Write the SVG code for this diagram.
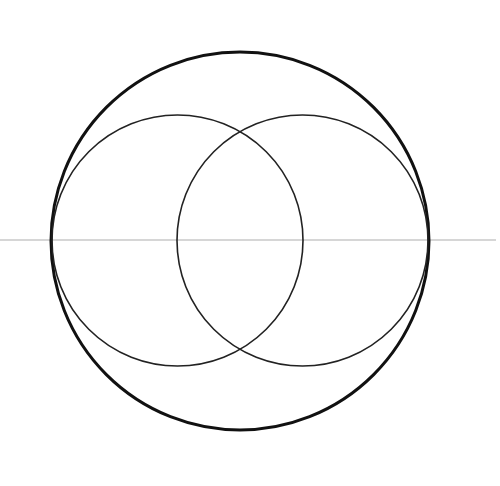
<svg xmlns="http://www.w3.org/2000/svg" width="500" height="486" viewBox="0 0 500 486">
<style>
.small{fill:none;stroke:#222;stroke-width:1.6}
.big{fill:none;stroke:#111;stroke-width:3}
.axis{stroke:#c8c8c8;stroke-width:1.5}
</style>
<rect width="500" height="486" fill="#fff"/>
<g id="axis"><line class="axis" x1="0" y1="240" x2="496" y2="240"/></g>
<g id="outer"><circle class="big" cx="240" cy="241" r="189"/></g>
<g id="left"><circle class="small" cx="177.5" cy="240.5" r="125.5"/></g>
<g id="right"><circle class="small" cx="302.5" cy="240.5" r="125.5"/></g>
</svg>
